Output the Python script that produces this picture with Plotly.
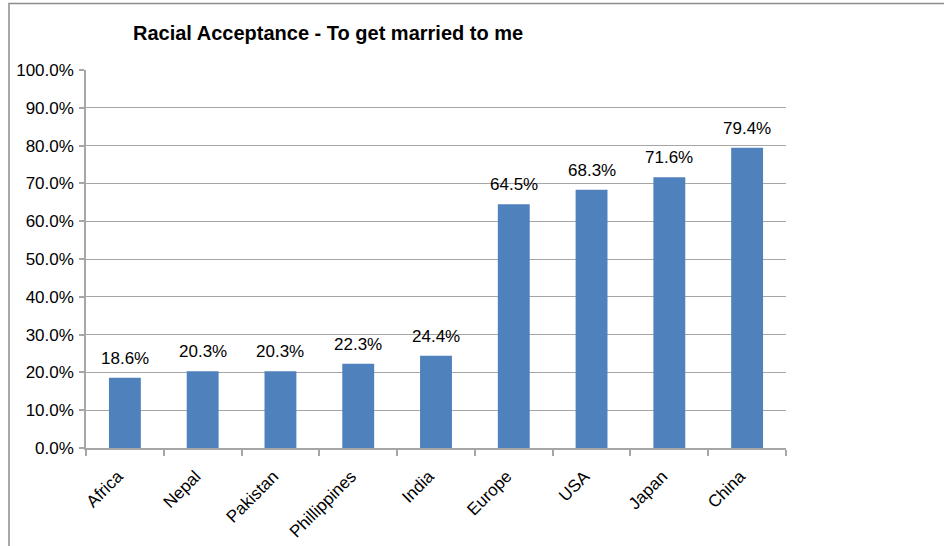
import plotly.graph_objects as go

categories = ["Africa", "Nepal", "Pakistan", "Phillippines", "India", "Europe", "USA", "Japan", "China"]
values = [18.6, 20.3, 20.3, 22.3, 24.4, 64.5, 68.3, 71.6, 79.4]
title_text = "Racial Acceptance - To get married to me"
ytick_vals = [0, 10, 20, 30, 40, 50, 60, 70, 80, 90, 100]
ytick_text = [f"{v:.1f}%" for v in ytick_vals]

W, H = 944, 546
L, T = 86, 70
pw, ph = 700, 378
R, B = W - L - pw, H - T - ph

FONT = "Liberation Sans, Arial, Helvetica, sans-serif"

fig = go.Figure()
fig.add_trace(go.Bar(
    x=categories, y=values,
    marker=dict(color="#4F81BD", line=dict(width=0)),
    hoverinfo="skip",
))

def px_x(p):
    return (p - L) / pw

def px_y(p):
    return 1 - (p - T) / ph

annotations = [dict(
    text="<b>" + title_text + "</b>",
    xref="paper", yref="paper",
    x=px_x(328), y=px_y(33), xanchor="center", yanchor="middle",
    showarrow=False, font=dict(size=20, color="#000000", family=FONT),
)]
for c, v in zip(categories, values):
    annotations.append(dict(
        x=c, y=v, xref="x", yref="y", text=f"{v:.1f}%",
        showarrow=False, xanchor="center", yanchor="bottom", yshift=8,
        font=dict(size=17, color="#000000", family=FONT),
    ))

fig.update_layout(
    width=W, height=H,
    margin=dict(l=L, r=R, t=T, b=B, pad=0, autoexpand=False),
    paper_bgcolor="white", plot_bgcolor="white",
    bargap=0.59,
    showlegend=False,
    font=dict(family=FONT, size=17, color="#000000"),
    xaxis=dict(
        showline=True, linecolor="#A6A6A6", linewidth=1.5,
        ticks="outside", tickson="boundaries", ticklen=6, tickcolor="#A6A6A6", tickwidth=1.5,
        tickangle=-45, tickfont=dict(size=17), ticklabelstandoff=10, ticklabelshift=-7,
        showgrid=False, automargin=False,
    ),
    yaxis=dict(
        range=[0, 100], tickvals=ytick_vals, ticktext=ytick_text,
        showline=True, linecolor="#A6A6A6", linewidth=1.5,
        ticks="outside", ticklen=5, tickcolor="#A6A6A6", tickwidth=1.5,
        showgrid=True, gridcolor="#A6A6A6", gridwidth=1.2,
        zeroline=False, tickfont=dict(size=17), ticklabelstandoff=2,
        automargin=False,
    ),
    annotations=annotations,
    shapes=[dict(
        type="rect", xref="paper", yref="paper",
        x0=px_x(9), x1=px_x(W + 20), y0=px_y(3.5), y1=px_y(H + 20),
        line=dict(color="#8C8C8C", width=1.5), fillcolor="rgba(0,0,0,0)", layer="below",
    )],
)

fig.write_html("out.html", config={"displayModeBar": False},
               post_script="document.body.style.margin='0';")
